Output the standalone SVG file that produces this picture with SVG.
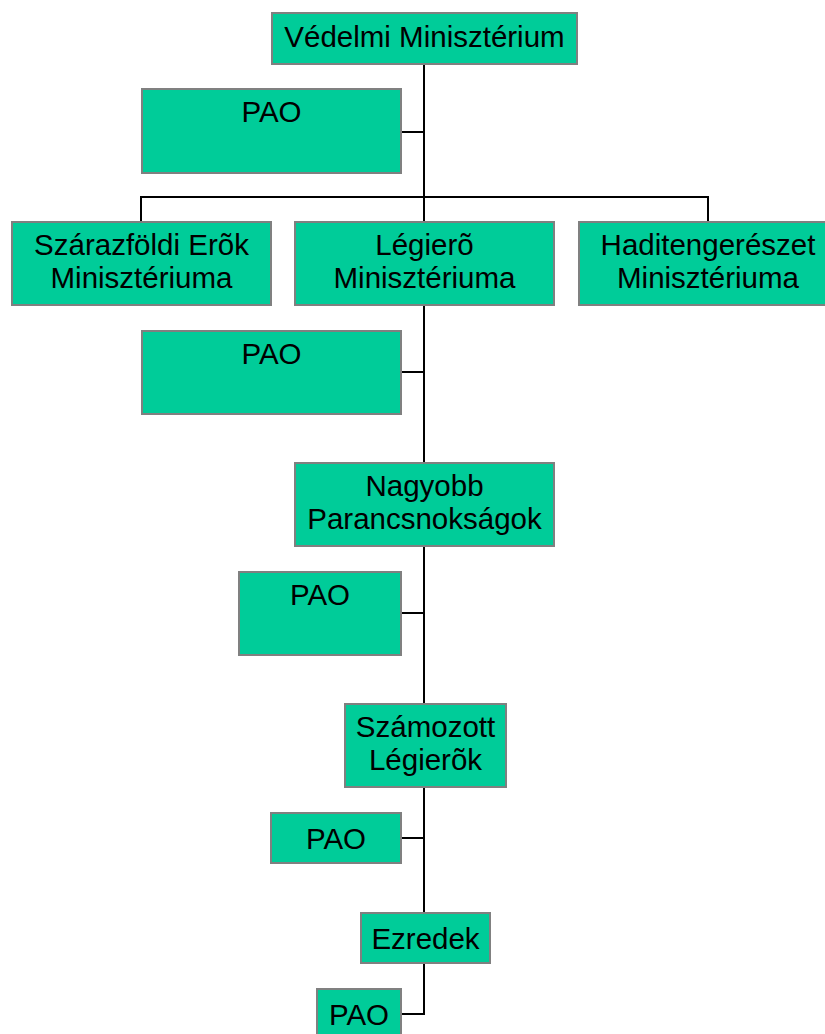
<svg xmlns="http://www.w3.org/2000/svg" width="825" height="1034" viewBox="0 0 825 1034">
<style>
.box{fill:#00CC99;stroke:#808080;stroke-width:2}
.t{font-family:"Liberation Sans",Arial,sans-serif;font-size:29.5px;fill:#000;text-anchor:middle}
.c{fill:none;stroke:#000;stroke-width:2}
</style>
<rect width="825" height="1034" fill="#fff"/>
<g id="connectors">
<path class="c" d="M424,64 V222"/>
<path class="c" d="M141,222 V197 H708 V222"/>
<path class="c" d="M401,132 H424"/>
<path class="c" d="M424,305 V463"/>
<path class="c" d="M401,372 H424"/>
<path class="c" d="M424,546 V704"/>
<path class="c" d="M401,613 H424"/>
<path class="c" d="M424,787 V913"/>
<path class="c" d="M401,838 H424"/>
<path class="c" d="M424,963 V1014 H401"/>
</g>
<g id="n-vedelmi"><rect class="box" x="272" y="13" width="305" height="51"/><text class="t" x="424.5" y="47">Védelmi Minisztérium</text></g>
<g id="n-pao1"><rect class="box" x="142" y="89" width="259" height="84"/><text class="t" x="271.5" y="122">PAO</text></g>
<g id="n-szarazfoldi"><rect class="box" x="12" y="222" width="259" height="83"/><text class="t" x="141.5" y="255">Szárazföldi Erõk</text><text class="t" x="141.5" y="288">Minisztériuma</text></g>
<g id="n-legiero"><rect class="box" x="295" y="222" width="259" height="83"/><text class="t" x="424.5" y="255">Légierõ</text><text class="t" x="424.5" y="288">Minisztériuma</text></g>
<g id="n-haditengereszet"><rect class="box" x="579" y="222" width="259" height="83"/><text class="t" x="708" y="255">Haditengerészet</text><text class="t" x="708" y="288">Minisztériuma</text></g>
<g id="n-pao2"><rect class="box" x="142" y="331" width="259" height="83"/><text class="t" x="271.5" y="364">PAO</text></g>
<g id="n-nagyobb"><rect class="box" x="295" y="463" width="259" height="83"/><text class="t" x="424.5" y="496">Nagyobb</text><text class="t" x="424.5" y="529">Parancsnokságok</text></g>
<g id="n-pao3"><rect class="box" x="239" y="572" width="162" height="83"/><text class="t" x="320" y="605">PAO</text></g>
<g id="n-szamozott"><rect class="box" x="345" y="704" width="161" height="83"/><text class="t" x="425.5" y="737">Számozott</text><text class="t" x="425.5" y="770">Légierõk</text></g>
<g id="n-pao4"><rect class="box" x="271" y="813" width="130" height="50"/><text class="t" x="336" y="849">PAO</text></g>
<g id="n-ezredek"><rect class="box" x="361" y="913" width="129" height="50"/><text class="t" x="425.5" y="949">Ezredek</text></g>
<g id="n-pao5"><rect class="box" x="317" y="989" width="84" height="60"/><text class="t" x="359" y="1025">PAO</text></g>
</svg>
